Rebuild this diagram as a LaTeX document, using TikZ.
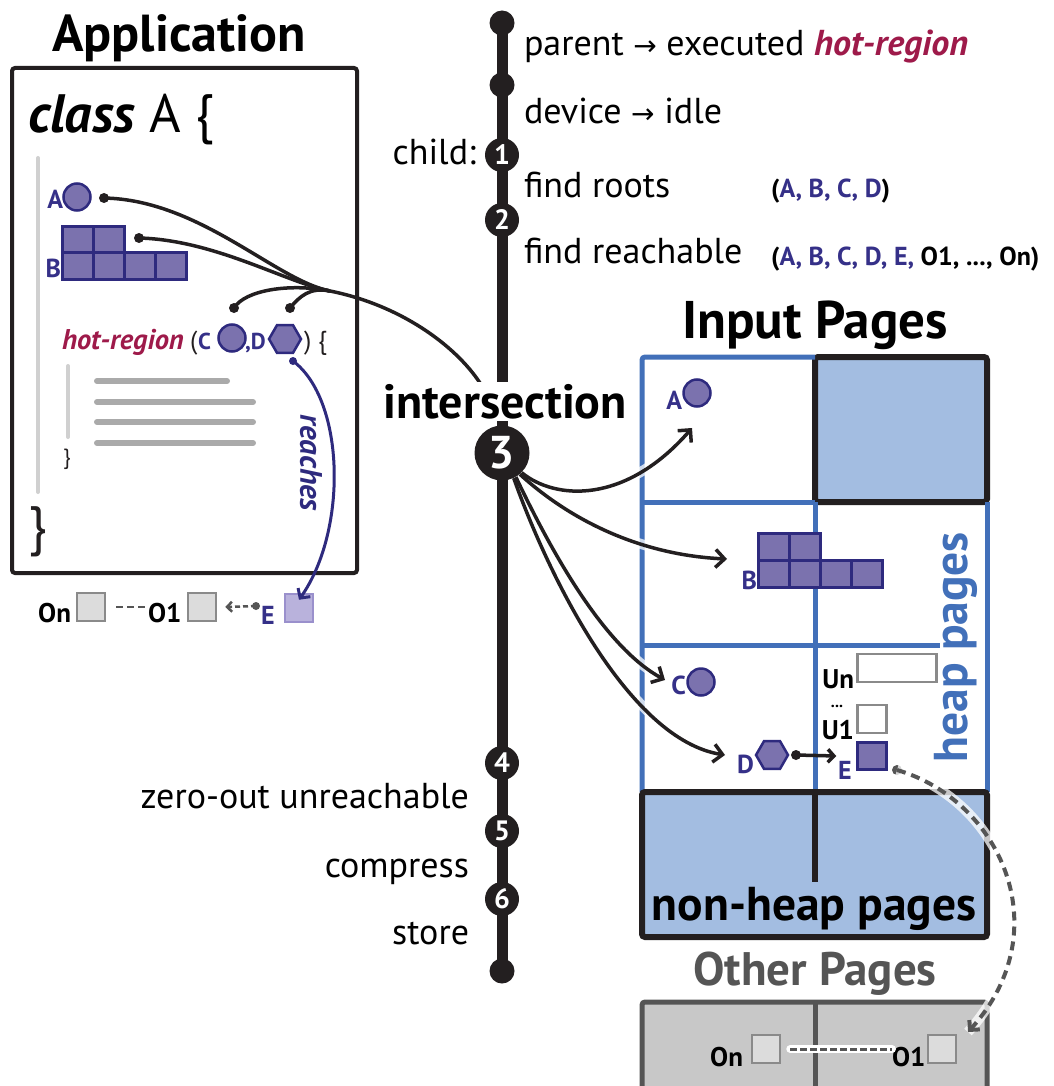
\documentclass[tikz,border=0pt]{standalone}
\usepackage{fontspec}
\setmainfont{PT Sans}
\newfontfamily\djv{DejaVu Sans}
\usetikzlibrary{arrows.meta,shapes.geometric}
\definecolor{pfill}{HTML}{7B72AE}
\definecolor{pline}{HTML}{2E2A7E}
\definecolor{ptext}{HTML}{353088}
\definecolor{crim}{HTML}{9E1A4A}
\definecolor{bline}{HTML}{4270B9}
\definecolor{bfill}{HTML}{A3BDE1}
\definecolor{ink}{HTML}{231F20}
\definecolor{gdark}{HTML}{555555}
\definecolor{gbox}{HTML}{C8C8C8}
\definecolor{gsq}{HTML}{DCDCDC}
\definecolor{gsqline}{HTML}{8A8A8A}
\definecolor{codegray}{HTML}{AAAAAA}
\definecolor{bargray}{HTML}{D0D0D0}
\definecolor{efill}{HTML}{B9B2DC}
\definecolor{eline}{HTML}{9A90CC}
\newcommand{\fsz}[1]{\fontsize{#1}{#1}\selectfont}
\begin{document}
\begin{tikzpicture}[x=1pt,y=-1pt,
  txt/.style={inner sep=0, outer sep=0},
  big/.style={txt, font=\fsz{36}},
  stepc/.style={circle, fill=ink, text=white, inner sep=0, minimum size=34, font=\bfseries\fsz{28}},
  tdot/.style={circle, fill=ink, inner sep=0, minimum size=25},
  objc/.style={circle, fill=pfill, draw=pline, line width=2.5, inner sep=0, minimum size=27},
  objh/.style={regular polygon, regular polygon sides=6, fill=pfill, draw=pline, line width=2.5, inner sep=0, minimum size=32},
  objs/.style={rectangle, fill=pfill, draw=pline, line width=2.5, inner sep=0, minimum width=29, minimum height=27},
  olbl/.style={txt, text=ptext, font=\bfseries\fsz{26}},
  klbl/.style={txt, text=black, font=\bfseries\fsz{27}},
  gsqr/.style={rectangle, fill=gsq, draw=gsqline, line width=2.5, inner sep=0, minimum size=28},
  conn/.style={draw=ink, line width=3.5},
  arr/.style={conn, -{Straight Barb[length=9,width=18]}},
  halo/.style={draw=white, line width=10, draw opacity=0.75},
  blueln/.style={draw=bline, line width=5},
  blackln/.style={draw=ink, line width=6},
  cdot/.style={circle, fill=ink, inner sep=0, minimum size=10},
]
\useasboundingbox (0,0) rectangle (1053,1086);
\clip (0,0) rectangle (1053,1086);

% ---------------- Application ----------------
\node[txt, font=\bfseries\fsz{52}, anchor=base] (apptitle) at (179,52) {Application};
\node[draw=ink, line width=4, rounded corners=3, minimum width=345, minimum height=505, inner sep=0] (appbox) at (184.5,320.5) {};
\node[txt, anchor=base west, font=\fsz{54}] (cls) at (28,133) {\textbf{\textit{class}} A \{};
\draw[bargray, line width=4, line cap=round] (38,158) -- (38,492);
\draw[bargray, line width=4, line cap=round] (68,366) -- (68,437);
\draw[codegray, line width=6, line cap=round] (97,381) -- (227,381);
\draw[codegray, line width=6, line cap=round] (97,402) -- (253,402);
\draw[codegray, line width=6, line cap=round] (97,422) -- (253,422);
\draw[codegray, line width=6, line cap=round] (97,443) -- (253,443);
\node[txt, font=\fsz{22}, text=ink] (cbr1) at (67,459) {\}};
\node[txt, font=\fsz{54}, text=ink] (cbr2) at (38,532) {\}};

% A
\node[olbl, anchor=base east] (lA) at (63,208) {A};
\node[objc] (oA) at (77,197) {};
\node[cdot] (dA) at (104,198) {};
% B
\foreach \cx/\cy [count=\i] in {78/240,109/240,78/266,109/266,140/266,171/266}
  \node[objs, minimum width=31] (oB\i) at (\cx,\cy) {};
\node[olbl, anchor=base east] (lB) at (61,277) {B};
\node[cdot] (dB) at (139,238) {};
% hot-region line
\node[txt, anchor=base west, font=\bfseries\itshape\fsz{28.5}, text=crim] (hr) at (62,349) {hot-region};
\node[txt, anchor=base west, font=\fsz{26}, text=ink] (po) at (190,349) {(};
\node[olbl, anchor=base west, font=\bfseries\fsz{23}] (lC) at (198,349) {C};
\node[objc] (oC) at (232,338) {};
\node[olbl, anchor=base west, font=\bfseries\fsz{23}] (lD) at (245,349) {,D};
\node[objh] (oD) at (285,339) {};
\node[txt, anchor=base west, font=\fsz{26}, text=ink] (pc) at (304,349) {) \{};
\node[cdot] (dC) at (234,308) {};
\node[cdot] (dD) at (290,308) {};

\coordinate (M) at (330,291);
\coordinate (Mend) at (480,383);
\draw[conn] (dA.center) .. controls (200,200) and (275,280) .. (M);
\draw[conn] (dB.center) .. controls (215,240) and (285,282) .. (M);
\draw[conn] (dC.center) .. controls (245,290) and (290,283) .. (M);
\draw[conn] (dD.center) .. controls (300,296) and (310,287) .. (M);
\draw[conn] (M) .. controls (400,305) and (455,345) .. (Mend);

% E below
\node[klbl, anchor=base east] (lOn) at (71,622) {On};
\node[gsqr] (sOn) at (91,607) {};
\node[klbl, anchor=base west] (lO1) at (148,622) {O1};
\node[gsqr] (sO1) at (202,607) {};
\node[olbl, anchor=base west] (lE0) at (261,624) {E};
\node[rectangle, fill=efill, draw=eline, line width=2.5, minimum size=28, inner sep=0] (oEapp) at (299,608) {};
\draw[gdark, line width=2.5, dash pattern=on 7 off 4] ([xshift=10]sOn.east) -- (lO1.west |- sOn.east);
\node[circle, fill=gdark, inner sep=0, minimum size=8] (dE0) at (256,606) {};
\draw[gdark, line width=2.5, dash pattern=on 5 off 3, -{Straight Barb[length=5,width=10]}] (dE0.center) -- ([xshift=8]sO1.east);

% reaches
\node[circle, fill=pline, inner sep=0, minimum size=8] (dR) at (293,361) {};
\draw[pline, line width=3, -{Straight Barb[length=7,width=15]}] (dR.center) .. controls (345,400) and (348,530) .. ([yshift=-7]oEapp.north);
\node[txt, rotate=-90, font=\bfseries\itshape\fsz{31}, text=pline] (reach) at (311,463) {reaches};

% ---------------- Timeline ----------------
\node[tdot] (t0) at (502,23) {};
\node[tdot] (t7) at (502,971) {};
\draw[ink, line width=11] (t0.center) -- (t7.center);
\node[tdot] (t1) at (502,85) {};
\node[stepc] (s1) at (502,155) {1};
\node[stepc] (s2) at (502,220) {2};
\node[txt, fill=white, inner sep=2, font=\bfseries\fsz{48}, anchor=base] (inter) at (505,418) {intersection};
\node[stepc, minimum size=55, font=\bfseries\fsz{46}] (s3) at (502,453) {3};
\node[stepc] (s4) at (502,763) {4};
\node[stepc] (s5) at (502,831) {5};
\node[stepc] (s6) at (502,899) {6};

\node[big, anchor=base west] (tparent) at (524,56) {parent {\djv\fsz{28}→} executed {\bfseries\itshape\color{crim}hot-region}};
\node[big, anchor=base west] (tdev) at (524,124) {device {\djv\fsz{28}→} idle};
\node[big, anchor=base east] (tchild) at (476,165) {child:};
\node[big, anchor=base west] (troots) at (524,197) {find roots};
\node[big, anchor=base west] (treach) at (524,263) {find reachable};
\node[txt, anchor=base west, font=\bfseries\fsz{26}] (lroots) at (771,197) {(\textcolor{ptext}{A, B, C, D})};
\node[txt, anchor=base west, font=\bfseries\fsz{26}] (lreach) at (771,265) {(\textcolor{ptext}{A, B, C, D, E,} O1, ..., On)};
\node[big, anchor=base east] (tzero) at (469,808) {zero-out unreachable};
\node[big, anchor=base east] (tcomp) at (469,877) {compress};
\node[big, anchor=base east] (tstore) at (469,944) {store};

% ---------------- Input pages ----------------
\node[txt, font=\bfseries\fsz{53}, anchor=base] (ipt) at (815,338) {Input Pages};
\filldraw[fill=bfill, blackln, rounded corners=3] (815,357) rectangle (987,502);
\draw[blueln, rounded corners=3] (815,357) -- (642,357) -- (642,792);
\draw[blueln] (642,502) -- (815,502);
\draw[blueln] (642,645) -- (940,645);
\draw[blueln] (815,502) -- (815,792);
\draw[blueln] (987,502) -- (987,792);
\filldraw[fill=bfill, blackln, rounded corners=3] (642,792) rectangle (987,937);
\draw[blackln] (815,792) -- (815,882);
\node[txt, font=\bfseries\fsz{47.5}, anchor=base] (nhp) at (814,920) {non-heap pages};
\node[txt, rotate=90, font=\bfseries\fsz{47.5}, text=bline] (hp) at (956,647) {heap pages};

\node[olbl, anchor=base east] (pAl) at (682,409) {A};
\node[objc] (pA) at (697,393) {};
\foreach \cx/\cy [count=\i] in {774/547,805/547,774/574,805/574,836/574,867/574}
  \node[objs, minimum width=31] (pB\i) at (\cx,\cy) {};
\node[olbl, anchor=base east] (pBl) at (757,589) {B};
\node[olbl, anchor=base east] (pCl) at (686,694) {C};
\node[objc] (pC) at (701,682) {};
\node[olbl, anchor=base east] (pDl) at (754,773) {D};
\node[objh] (pD) at (772,755) {};
\node[objs] (pE) at (872,756) {};
\node[olbl, anchor=base west] (pEl) at (838,779) {E};
\node[cdot] (dDE) at (796,755) {};
\draw[conn, -{Straight Barb[length=6,width=13]}] (dDE.center) -- ([xshift=-20]pE.west);
\node[klbl, anchor=base east] (lUn) at (854,688) {Un};
\node[draw=gsqline, line width=2.5, fill=white, minimum width=79, minimum height=28, inner sep=0] (rUn) at (897,668) {};
\node[txt, font=\bfseries\fsz{16}] (dots) at (837,706) {...};
\node[klbl, anchor=base east] (lU1) at (854,739) {U1};
\node[draw=gsqline, line width=2.5, fill=white, minimum width=29, minimum height=28, inner sep=0] (rU1) at (872,719) {};

% arrows from step 3
\coordinate (tA) at (692,428);
\coordinate (tB) at (727,559);
\coordinate (tC) at (665,680);
\coordinate (tD) at (725,755);
\path[halo] (s3.-45) .. controls (555,500) and (625,505) .. (tA);
\path[halo] (s3.-50) .. controls (570,520) and (640,555) .. (tB);
\path[halo] (s3.-60) .. controls (560,570) and (610,650) .. (tC);
\path[halo] (s3.-65) .. controls (550,580) and (630,740) .. (tD);
\draw[arr] (s3.-45) .. controls (555,500) and (625,505) .. (tA);
\draw[arr] (s3.-50) .. controls (570,520) and (640,555) .. (tB);
\draw[arr] (s3.-60) .. controls (560,570) and (610,650) .. (tC);
\draw[arr] (s3.-65) .. controls (550,580) and (630,740) .. (tD);

% ---------------- Other pages ----------------
\node[txt, font=\bfseries\fsz{47}, text=gdark, anchor=base] (opt) at (815,985) {Other Pages};
\filldraw[fill=gbox, draw=gdark, line width=5, rounded corners=3] (642,1002) rectangle (987,1110);
\draw[gdark, line width=5] (815,1002) -- (815,1090);
\node[klbl, anchor=base east] (lOnb) at (743,1066) {On};
\node[gsqr] (oOn) at (766,1049) {};
\node[klbl, anchor=base west] (lO1b) at (892,1066) {O1};
\node[gsqr] (oO1) at (942,1049) {};
\draw[white, line width=8, line cap=round] ([xshift=9]oOn.east) -- (lO1b.west |- oOn.east);
\draw[gdark, line width=3, dash pattern=on 7 off 3] ([xshift=9]oOn.east) -- (lO1b.west |- oOn.east);

% dashed E -> O1
\node[circle, fill=gdark, inner sep=0, minimum size=10] (dE) at (897,770) {};
\coordinate (tO1) at (968,1032);
\path[halo] (dE.center) .. controls (1000,800) and (1060,930) .. (tO1);
\draw[gdark, line width=4, dash pattern=on 9 off 6, -{Straight Barb[length=7,width=14]}] (dE.center) .. controls (1000,800) and (1060,930) .. (tO1);
\end{tikzpicture}
\end{document}
